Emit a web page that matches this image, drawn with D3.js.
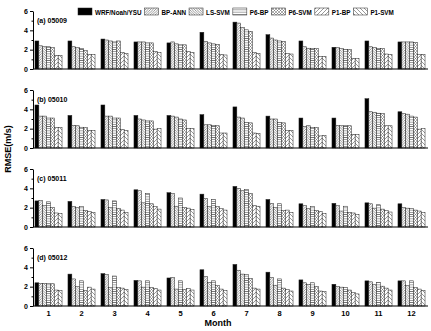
<!DOCTYPE html>
<html>
<head>
<meta charset="utf-8">
<script src="https://cdn.jsdelivr.net/npm/d3@7"></script>
<style>
  body { margin: 0; background: #fff; }
  svg { font-family: "Liberation Sans", Arial, sans-serif; }
</style>
</head>
<body>
<svg id="chart" width="431" height="331"></svg>
<script>
// ---- data ----
var months = [1, 2, 3, 4, 5, 6, 7, 8, 9, 10, 11, 12];
var series = ["WRF/Noah/YSU", "BP-ANN", "LS-SVM", "P6-BP", "P6-SVM", "P1-BP", "P1-SVM"];
var panelLabels = ["(a) 05009", "(b) 05010", "(c) 05011", "(d) 05012"];
var yTicks = [0, 2, 4, 6];

// one row per month, columns in series order
var rmse05009 = [
  [2.9, 2.4, 2.3, 2.3, 2.2, 1.4, 1.4],
  [2.9, 2.3, 2.2, 2.1, 1.9, 1.5, 1.5],
  [3.1, 3.0, 2.9, 2.8, 2.9, 1.7, 1.6],
  [2.8, 2.8, 2.8, 2.7, 2.7, 1.8, 1.7],
  [2.7, 2.8, 2.6, 2.5, 2.5, 1.8, 1.7],
  [3.8, 2.85, 2.7, 2.6, 2.55, 1.5, 1.45],
  [4.85, 4.75, 4.3, 4.05, 3.9, 1.7, 1.6],
  [3.55, 3.2, 3.0, 2.9, 2.85, 1.6, 1.55],
  [2.9, 2.3, 2.15, 2.1, 2.1, 1.3, 1.3],
  [2.25, 2.2, 2.1, 2.0, 2.0, 1.1, 1.1],
  [2.9, 2.3, 2.2, 2.1, 2.1, 1.55, 1.5],
  [2.8, 2.8, 2.8, 2.8, 2.75, 1.5, 1.5]
];
var rmse05010 = [
  [4.45, 3.3, 3.3, 3.1, 3.1, 2.1, 2.1],
  [3.37, 2.35, 2.3, 2.15, 2.1, 1.8, 1.8],
  [4.45, 3.3, 3.3, 3.1, 3.1, 1.9, 1.8],
  [3.37, 3.0, 2.9, 2.8, 2.8, 1.95, 2.0],
  [3.37, 3.3, 3.2, 3.0, 2.9, 2.0, 2.0],
  [3.45, 2.4, 2.4, 2.35, 2.3, 1.55, 1.55],
  [4.25, 3.2, 3.1, 2.65, 2.6, 1.55, 1.5],
  [3.3, 3.0, 3.0, 2.65, 2.6, 1.8, 1.8],
  [3.1, 2.25, 2.3, 2.1, 2.1, 1.25, 1.3],
  [3.1, 2.35, 2.3, 2.3, 2.3, 1.4, 1.4],
  [5.1, 3.75, 3.7, 3.6, 3.55, 2.3, 2.3],
  [3.75, 3.55, 3.5, 3.3, 3.2, 1.95, 2.0]
];
var rmse05011 = [
  [2.7, 2.75, 2.2, 2.6, 2.0, 1.45, 1.4],
  [2.65, 2.1, 2.0, 2.1, 1.7, 1.6, 1.5],
  [2.85, 2.8, 2.0, 2.7, 1.9, 1.75, 1.5],
  [3.85, 3.75, 2.5, 3.45, 2.4, 2.1, 1.85],
  [3.55, 3.45, 2.15, 3.0, 2.0, 1.95, 1.8],
  [3.4, 2.95, 2.1, 2.85, 2.1, 1.9, 1.75],
  [4.2, 4.0, 3.75, 3.9, 3.45, 2.2, 2.15],
  [2.85, 2.45, 2.0, 2.4, 1.7, 1.75, 1.5],
  [2.4, 2.2, 1.9, 2.1, 1.7, 1.6, 1.4],
  [2.45, 2.2, 1.65, 2.15, 1.5, 1.45, 1.3],
  [2.5, 2.4, 1.95, 2.3, 1.85, 1.7, 1.55],
  [2.4, 2.0, 1.95, 1.9, 1.75, 1.65, 1.5]
];
var rmse05012 = [
  [2.4, 2.35, 2.35, 2.3, 2.3, 1.65, 1.6],
  [3.3, 2.8, 2.0, 2.6, 1.6, 1.95, 1.75],
  [3.35, 3.25, 1.9, 3.1, 1.9, 1.85, 1.7],
  [2.65, 2.6, 1.95, 2.6, 1.9, 1.8, 1.65],
  [2.9, 2.95, 1.75, 2.6, 1.7, 1.8, 1.65],
  [3.75, 3.05, 2.45, 2.6, 2.1, 1.75, 1.6],
  [4.3, 3.7, 3.3, 3.25, 2.85, 1.85, 1.75],
  [3.5, 2.95, 2.15, 2.8, 1.85, 1.7, 1.55],
  [2.7, 2.4, 2.25, 2.4, 2.0, 1.55, 1.5],
  [2.25, 2.0, 1.95, 1.9, 1.65, 1.4, 1.25],
  [2.6, 2.5, 2.2, 2.45, 2.05, 1.85, 1.65],
  [2.6, 2.6, 2.1, 2.6, 1.9, 1.75, 1.6]
];
var panels = [rmse05009, rmse05010, rmse05011, rmse05012];

// ---- layout ----
var svg = d3.select("#chart");
var left = 33, right = 428, firstTop = 11, panelStep = 79, panelH = 58;

// hatch patterns
var defs = svg.append("defs");
function pattern(id, s, d, w) {
  var p = defs.append("pattern")
    .attr("id", id)
    .attr("patternUnits", "userSpaceOnUse")
    .attr("width", s).attr("height", s);
  p.append("rect").attr("width", s).attr("height", s).attr("fill", "#fff");
  p.append("path").attr("d", d).attr("stroke", "#333")
    .attr("stroke-width", w).attr("fill", "none");
}
function fwd(s) { return "M0," + s + "L" + s + ",0M" + (-s/2) + "," + (s/2) + "L" + (s/2) + "," + (-s/2) + "M" + (s/2) + "," + (s*1.5) + "L" + (s*1.5) + "," + (s/2); }
function back(s) { return "M0,0L" + s + "," + s + "M" + (-s/2) + "," + (s/2) + "L" + (s/2) + "," + (s*1.5) + "M" + (s/2) + "," + (-s/2) + "L" + (s*1.5) + "," + (s/2); }
pattern("pBPANN", 2.5, fwd(2.5), 0.5);
pattern("pLSSVM", 2.5, back(2.5), 0.5);
pattern("pP6BP", 2.2, "M0,1.1L2.2,1.1", 0.5);
pattern("pP6SVM", 3, fwd(3) + back(3), 0.4);
pattern("pP1BP", 4, fwd(4), 0.5);
pattern("pP1SVM", 4, back(4), 0.5);
var fills = ["#000", "url(#pBPANN)", "url(#pLSSVM)", "url(#pP6BP)", "url(#pP6SVM)", "url(#pP1BP)", "url(#pP1SVM)"];

var x0 = d3.scaleBand().domain(months).range([32, 428]).paddingInner(0.18).paddingOuter(0.09);
var x1 = d3.scaleBand().domain(series).range([0, x0.bandwidth()]);

panels.forEach(function (data, pi) {
  var top = firstTop + pi * panelStep;
  var y = d3.scaleLinear().domain([0, 6]).range([top + panelH, top]);
  var g = svg.append("g");

  // bars
  months.forEach(function (m, mi) {
    g.selectAll(null)
      .data(data[mi])
      .enter().append("rect")
      .attr("x", function (d, si) { return x0(m) + x1(series[si]); })
      .attr("y", function (d) { return y(d); })
      .attr("width", x1.bandwidth())
      .attr("height", function (d) { return y(0) - y(d); })
      .attr("fill", function (d, si) { return fills[si]; })
      .attr("stroke", "#222")
      .attr("stroke-width", 0.5);
  });

  // y axis
  var ya = g.append("g").attr("transform", "translate(" + left + ",0)")
    .call(d3.axisLeft(y).tickValues(yTicks).tickFormat(d3.format("d"))
      .tickSize(3).tickSizeOuter(0).tickPadding(2));
  ya.selectAll("text").style("font-size", "7px").style("font-weight", "bold");
  g.append("g").attr("transform", "translate(" + left + ",0)")
    .call(d3.axisLeft(y).tickValues([1, 3, 5]).tickSize(1.5).tickFormat(""))
    .select(".domain").remove();

  // x axis line
  g.append("line").attr("x1", left).attr("x2", right)
    .attr("y1", y(0)).attr("y2", y(0)).attr("stroke", "#000");

  g.append("text").attr("x", 37).attr("y", top + 11.5)
    .style("font-size", "7px").style("font-weight", "bold")
    .text(panelLabels[pi]);

  if (pi === panels.length - 1) {
    var xa = g.append("g").attr("transform", "translate(0," + y(0) + ")")
      .call(d3.axisBottom(x0).tickSize(0).tickPadding(5));
    xa.select(".domain").remove();
    xa.selectAll("text").style("font-size", "7.5px").style("font-weight", "bold");
  }
});

// axis titles
svg.append("text")
  .attr("transform", "translate(11,149) rotate(-90)")
  .attr("text-anchor", "middle")
  .style("font-size", "9px").style("font-weight", "bold")
  .text("RMSE(m/s)");
svg.append("text")
  .attr("x", 218).attr("y", 326)
  .attr("text-anchor", "middle")
  .style("font-size", "9px").style("font-weight", "bold")
  .text("Month");

// legend
var lx = 78;
series.forEach(function (s, i) {
  svg.append("rect").attr("x", lx).attr("y", 8).attr("width", 14).attr("height", 7)
    .attr("fill", fills[i]).attr("stroke", "#222").attr("stroke-width", 0.5);
  var t = svg.append("text").attr("x", lx + 17).attr("y", 15)
    .style("font-size", "6.3px").style("font-weight", "bold")
    .text(s);
  lx += 17 + t.node().getComputedTextLength() + 3;
});
</script>
</body>
</html>
